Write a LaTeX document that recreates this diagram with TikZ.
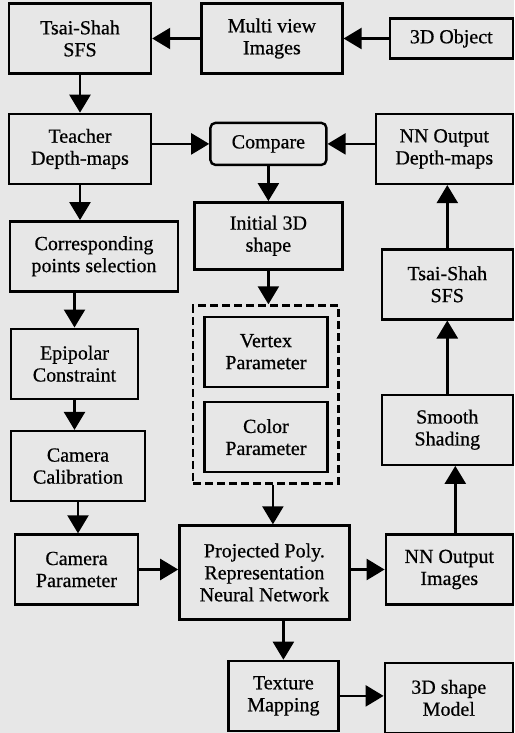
\documentclass[tikz,border=0pt]{standalone}
\usepackage{fontspec}
\setmainfont{Liberation Serif}[FakeBold=0.6]
\usepackage{xcolor}
\definecolor{paper}{RGB}{231, 231, 231}
\usepackage{tikz}
\usetikzlibrary{arrows.meta, positioning, fit}
\tikzstyle{block} = [rectangle, draw, line width=2.4pt, align=center, inner sep=0pt, minimum height=70pt]
\tikzstyle{arrow} = [line width=2.4pt, -{Triangle[length=18pt, width=21pt]}]
\tikzstyle{group} = [rectangle, draw, line width=2.4pt, dash pattern=on 8pt off 4pt, inner sep=10pt]

\begin{document}
\begin{tikzpicture}[x=1pt, y=1pt, font=\fontsize{20}{22}\selectfont]
    \fill[paper] (0,0) rectangle (514,-733);
    \useasboundingbox (0,0) rectangle (514,-733);

    % top row
    \node[block, minimum width=142pt] (tsai) at (80,-38.5) {Tsai-Shah\\SFS};
    \node[block, minimum width=141pt, right=48pt of tsai] (multi) {Multi view\\Images};
    \node[block, minimum width=123pt, minimum height=40pt, right=45pt of multi] (object) {3D Object};

    % left column
    \node[block, minimum width=142pt, below=38pt of tsai] (teacher) {Teacher\\Depth-maps};
    \node[block, minimum width=168pt, below=35pt of teacher, xshift=14pt] (corr) {Corresponding\\points selection};
    \node[block, minimum width=127pt, below=35pt of corr, xshift=-19.5pt] (epi) {Epipolar\\Constraint};
    \node[block, minimum width=134pt, below=30pt of epi, xshift=3.5pt] (calib) {Camera\\Calibration};
    \node[block, minimum width=123pt, below=31pt of calib, xshift=-1.5pt] (campar) {Camera\\Parameter};

    % middle column
    \node[block, rounded corners=5pt, minimum width=116pt, minimum height=42pt, right=57pt of teacher, yshift=5pt] (compare) {Compare};
    \node[block, minimum width=148pt, minimum height=67pt, below=35pt of compare] (initial) {Initial 3D\\shape};
    \node[block, minimum width=123pt, below=45pt of initial, xshift=-2.5pt] (vertex) {Vertex\\Parameter};
    \node[block, minimum width=123pt, below=13pt of vertex] (color) {Color\\Parameter};
    \node[group, fit=(vertex)(color)] (params) {};
    \node[block, minimum width=170pt, minimum height=94pt, right=39pt of campar, yshift=-3pt] (proj) {Projected Poly.\\Representation\\Neural Network};
    \node[block, minimum width=110pt, below=39pt of proj, xshift=19pt] (texture) {Texture\\Mapping};

    % right column
    \node[block, minimum width=137pt, right=47pt of compare, yshift=-5pt] (nndepth) {NN Output\\Depth-maps};
    \node[block, minimum width=131pt, below=63pt of nndepth, xshift=3pt] (tsaitwo) {Tsai-Shah\\SFS};
    \node[block, minimum width=131pt, below=73pt of tsaitwo] (smooth) {Smooth\\Shading};
    \node[block, minimum width=127pt, right=34pt of proj, yshift=3pt] (nnimg) {NN Output\\Images};
    \node[block, minimum width=128pt, right=44pt of texture, yshift=-2pt] (model) {3D shape\\Model};

    \draw[arrow] (object) -- (multi);
    \draw[arrow] (multi) -- (tsai);
    \draw[arrow] (tsai) -- (teacher);
    \draw[arrow] (teacher.east |- compare) -- (compare);
    \draw[arrow] (nndepth.west |- compare) -- (compare);
    \draw[arrow] (compare) -- (initial);
    \draw[arrow] (teacher.south) -- (teacher.south |- corr.north);
    \draw[arrow] (initial) -- (initial |- params.north);
    \draw[arrow] (corr.south -| epi) -- (epi);
    \draw[arrow] (epi) -- (epi |- calib.north);
    \draw[arrow] (calib) -- (calib |- campar.north);
    \draw[arrow] (campar) -- (campar -| proj.west);
    \draw[arrow] ([xshift=7pt]params.south) -- ([xshift=7pt]params.south |- proj.north);
    \draw[arrow] (proj.east |- nnimg) -- (nnimg);
    \draw[arrow] ([xshift=6pt]nnimg.north) -- ([xshift=6pt]nnimg.north |- smooth.south);
    \draw[arrow] (smooth) -- (tsaitwo);
    \draw[arrow] (tsaitwo.north) -- (tsaitwo.north |- nndepth.south);
    \draw[arrow] (proj.south -| texture) -- (texture);
    \draw[arrow] (texture) -- (texture -| model.west);
\end{tikzpicture}
\end{document}
